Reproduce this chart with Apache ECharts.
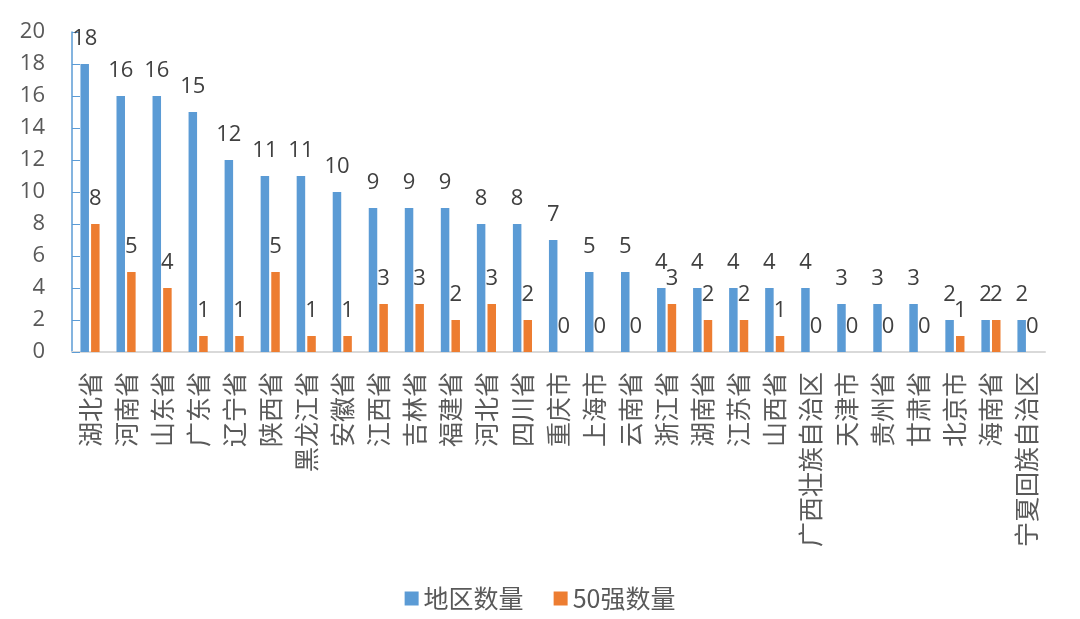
<!DOCTYPE html>
<html>
<head>
<meta charset="utf-8">
<script src="https://cdn.jsdelivr.net/npm/echarts@6/dist/echarts.min.js"></script>
<style>
html,body{margin:0;padding:0;background:#fff;}
#chart{width:1080px;height:619px;}
</style>
</head>
<body>
<div id="chart"></div>
<script>
const categories = ['湖北省','河南省','山东省','广东省','辽宁省','陕西省','黑龙江省','安徽省','江西省','吉林省','福建省','河北省','四川省','重庆市','上海市','云南省','浙江省','湖南省','江苏省','山西省','广西壮族自治区','天津市','贵州省','甘肃省','北京市','海南省','宁夏回族自治区'];
const regionCount = [18,16,16,15,12,11,11,10,9,9,9,8,8,7,5,5,4,4,4,4,4,3,3,3,2,2,2];
const top50Count = [8,5,4,1,1,5,1,1,3,3,2,3,2,0,0,0,3,2,2,1,0,0,0,0,1,2,0];
const seriesNames = ['地区数量','50强数量'];
const colors = ['#5B9BD5','#ED7D31'];

const cjk = '"Noto Sans CJK SC", "Open Sans", sans-serif';
const num = '"Open Sans", "Noto Sans CJK SC", sans-serif';

const chart = echarts.init(document.getElementById('chart'));
const labelStyle = {
  show: true,
  position: 'top',
  distance: 14,
  color: '#404040',
  fontSize: 22,
  fontFamily: num
};
chart.setOption({
  animation: false,
  color: colors,
  grid: {left: 72, right: 35, top: 32, bottom: 267},
  legend: {
    bottom: 3,
    left: 'center',
    itemWidth: 14,
    itemHeight: 14,
    itemGap: 30,
    icon: 'rect',
    textStyle: {color: '#595959', fontSize: 25, fontFamily: cjk},
    data: seriesNames
  },
  xAxis: {
    type: 'category',
    data: categories,
    axisTick: {show: false},
    axisLine: {lineStyle: {color: '#d9d9d9', width: 2}},
    axisLabel: {rotate: 90, interval: 0, margin: 20, color: '#595959', fontSize: 25, fontFamily: cjk}
  },
  yAxis: {
    type: 'value',
    min: 0, max: 20, interval: 2,
    splitLine: {show: false},
    axisLine: {show: true, lineStyle: {color: '#5B9BD5', width: 1.5}},
    axisTick: {show: true, inside: true, length: 8, lineStyle: {color: '#5B9BD5'}},
    axisLabel: {margin: 27, color: '#595959', fontSize: 22, fontFamily: num}
  },
  series: [
    {name: seriesNames[0], type: 'bar', data: regionCount, barWidth: 8.5, barGap: '25%', label: labelStyle},
    {name: seriesNames[1], type: 'bar', data: top50Count, barWidth: 8.5, barGap: '25%', label: labelStyle}
  ]
});
</script>
</body>
</html>
